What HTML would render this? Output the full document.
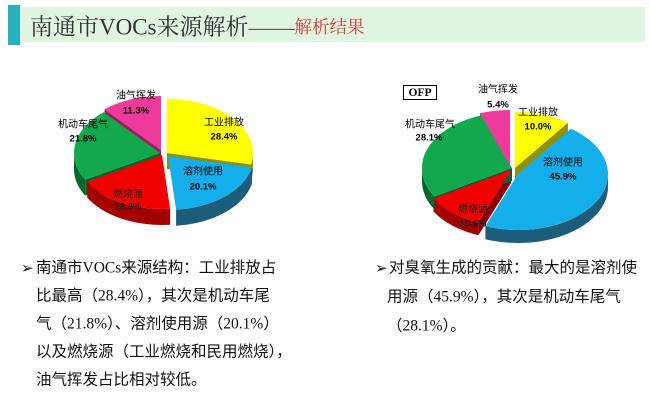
<!DOCTYPE html>
<html><head><meta charset="utf-8">
<style>
html,body{margin:0;padding:0;background:#fff;}
svg{display:block;}
</style></head>
<body>
<svg width="650" height="403" viewBox="0 0 650 403" xmlns="http://www.w3.org/2000/svg">
<rect x="0" y="0" width="650" height="403" fill="#ffffff"/>
<!-- header -->
<rect x="20" y="7" width="625" height="35" fill="#DFF4E1"/>
<rect x="8" y="5" width="12" height="40" fill="#2AB0BA"/>
<text x="30" y="27" dominant-baseline="central" font-family="'Liberation Serif','Noto Serif CJK SC',serif" font-size="23" fill="#333">南通市VOCs来源解析<tspan fill="#555">——</tspan><tspan fill="#D93A3A" font-size="17.5">解析结果</tspan></text>

<!-- LEFT PIE -->
<g>
<polygon points="161,150 104.53,109.27 104.53,125.27 161,166" fill="#9A1F5F"/>
<polygon points="160,153 85.18,179.62 85.18,195.62 160,169" fill="#00662C"/>
<polygon points="167,153 251.05,164.45 251.05,180.45 167,169" fill="#8F8F00"/>
<path d="M253,153 A86,54 0 0 1 251.05,164.45 L251.05,180.45 A86,54 0 0 0 253,169 Z" fill="#8F8F00"/>
<path d="M252.05,167.45 A86,54 0 0 1 176.09,209.76 L176.09,225.76 A86,54 0 0 0 252.05,183.45 Z" fill="#1C5D7C"/>
<path d="M170.09,208.76 A86,54 0 0 1 87.18,181.62 L87.18,197.62 A86,54 0 0 0 170.09,224.76 Z" fill="#A30000"/>
<path d="M85.18,179.62 A86,54 0 0 1 74,153 L74,169 A86,54 0 0 0 85.18,195.62 Z" fill="#00682E"/>
<path d="M167,153 L167,99 A86,54 0 0 1 251.05,164.45 Z" fill="#FFFF00"/>
<path d="M168,156 L252.05,167.45 A86,54 0 0 1 176.09,209.76 Z" fill="#14AFEA"/>
<path d="M162,155 L170.09,208.76 A86,54 0 0 1 87.18,181.62 Z" fill="#F00000"/>
<path d="M160,153 L85.18,179.62 A86,54 0 0 1 103.53,112.27 Z" fill="#12A84E"/>
<path d="M161,150 L104.53,109.27 A86,54 0 0 1 161,96 Z" fill="#EE3A9A"/>
</g>
<g font-family="'Liberation Sans','Noto Sans CJK SC',sans-serif" fill="#000" text-anchor="middle" dominant-baseline="central">
<text x="136" y="96" font-size="10">油气挥发</text>
<text x="136" y="111" font-size="9.5" font-weight="bold">11.3%</text>
<text x="224" y="123" font-size="10">工业排放</text>
<text x="224" y="137" font-size="9.5" font-weight="bold">28.4%</text>
<text x="203" y="172" font-size="10">溶剂使用</text>
<text x="203" y="187" font-size="9.5" font-weight="bold">20.1%</text>
<text x="128" y="195" font-size="10" fill="#222">燃烧源</text>
<text x="128" y="207" font-size="9.5" font-weight="bold" fill="#222">18.3%</text>
<text x="83" y="125" font-size="10">机动车尾气</text>
<text x="83" y="139" font-size="9.5" font-weight="bold">21.8%</text>
</g>

<!-- RIGHT PIE -->
<g>
<polygon points="515,168 567.9,122.7 567.9,135.7 515,181" fill="#8F8F00"/>
<polygon points="511,170 478.4,222.2 478.4,235.2 511,183" fill="#8A0000"/>
<polygon points="512,168 434.5,196.5 434.5,209.5 512,181" fill="#00602A"/>
<polygon points="510,166 480,113.2 480,126.2 510,179" fill="#9A1F5F"/>
<path d="M608,174 A90,56 0 0 1 485.4,226.2 L485.4,239.2 A90,56 0 0 0 608,187 Z" fill="#1C5D7C"/>
<path d="M478.4,222.2 A90,56 0 0 1 433.5,198.5 L433.5,211.5 A90,56 0 0 0 478.4,235.2 Z" fill="#A30000"/>
<path d="M434.5,196.5 A90,56 0 0 1 422,168 L422,181 A90,56 0 0 0 434.5,209.5 Z" fill="#00682E"/>
<path d="M515,168 L515,112 A90,56 0 0 1 567.9,122.7 Z" fill="#FFFF00"/>
<path d="M518,174 L570.9,128.7 A90,56 0 0 1 485.4,226.2 Z" fill="#14AFEA"/>
<path d="M511,170 L478.4,222.2 A90,56 0 0 1 433.5,198.5 Z" fill="#F00000"/>
<path d="M512,168 L434.5,196.5 A90,56 0 0 1 482,115.2 Z" fill="#12A84E"/>
<path d="M510,166 L480,113.2 A90,56 0 0 1 510,110 Z" fill="#EE3A9A"/>
</g>
<rect x="403.5" y="85.5" width="33" height="14" fill="#fff" stroke="#000" stroke-width="1"/>
<text x="420" y="93" text-anchor="middle" dominant-baseline="central" font-family="'Liberation Serif',serif" font-weight="bold" font-size="11.5" fill="#000">OFP</text>
<g font-family="'Liberation Sans','Noto Sans CJK SC',sans-serif" fill="#000" text-anchor="middle" dominant-baseline="central">
<text x="498" y="90" font-size="10">油气挥发</text>
<text x="498" y="105" font-size="9.5" font-weight="bold">5.4%</text>
<text x="538" y="113" font-size="10">工业排放</text>
<text x="538" y="127" font-size="9.5" font-weight="bold">10.0%</text>
<text x="430" y="125" font-size="10">机动车尾气</text>
<text x="429" y="138" font-size="9.5" font-weight="bold">28.1%</text>
<text x="563" y="163" font-size="10">溶剂使用</text>
<text x="563" y="177" font-size="9.5" font-weight="bold">45.9%</text>
<text x="473" y="210" font-size="10" fill="#222">燃烧源</text>
<text x="473" y="224" font-size="9.5" font-weight="bold" fill="#222">10.6%</text>
</g>

<!-- BODY TEXT LEFT -->
<text x="21" y="268" dominant-baseline="central" font-family="'DejaVu Sans',sans-serif" font-size="15" fill="#111">➢</text>
<g font-family="'Liberation Serif','Noto Sans CJK SC',sans-serif" font-size="15.5" fill="#111" dominant-baseline="central">
<text x="36" y="268">南通市VOCs来源结构：工业排放占</text>
<text x="36" y="296">比最高（28.4%），其次是机动车尾</text>
<text x="36" y="324">气（21.8%）、溶剂使用源（20.1%）</text>
<text x="36" y="352">以及燃烧源（工业燃烧和民用燃烧），</text>
<text x="36" y="380">油气挥发占比相对较低。</text>
</g>

<!-- BODY TEXT RIGHT -->
<text x="375" y="268" dominant-baseline="central" font-family="'DejaVu Sans',sans-serif" font-size="15" fill="#111">➢</text>
<g font-family="'Liberation Serif','Noto Sans CJK SC',sans-serif" font-size="15.5" fill="#111" dominant-baseline="central">
<text x="389" y="268">对臭氧生成的贡献：最大的是溶剂使</text>
<text x="387" y="297">用源（45.9%），其次是机动车尾气</text>
<text x="387" y="326">（28.1%）。</text>
</g>
</svg>
</body></html>
